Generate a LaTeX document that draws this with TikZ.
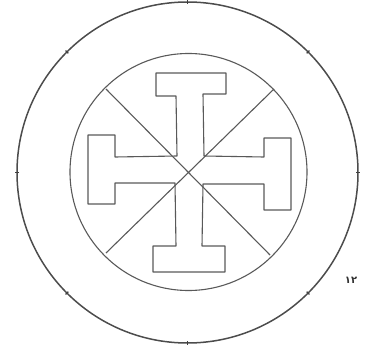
\documentclass[tikz,border=0pt]{standalone}
\usepackage{fontspec}
\usetikzlibrary{calc}
\newfontfamily\arabicfont[Script=Arabic]{DejaVu Sans}
\begin{document}
\begin{tikzpicture}[x=1pt,y=-1pt,
  ink/.style={draw=black!65,line width=1.1pt,line join=round},
  rim/.style={draw=black!70,line width=1.5pt},
  tick/.style={draw=black!75,line width=1.2pt}]
\useasboundingbox (0,0) rectangle (372,350);
\coordinate (oc) at (187.5,172.5);
\coordinate (ic) at (188.5,172);
\coordinate (c) at (189,171.5);
% outer circle
\draw[rim] (oc) circle[radius=170.5];
\foreach \a in {0,45,...,315}{
  \draw[tick] ($(oc)+(\a:168.5)$) -- ($(oc)+(\a:172.5)$);
}
% inner circle
\draw[ink] (ic) circle[radius=118.5];
% diagonals
\coordinate (d1) at (106,89);
\coordinate (d2) at (274,89);
\coordinate (d3) at (106,253);
\coordinate (d4) at (270,255);
\draw[ink] (d1) -- (d4);
\draw[ink] (d2) -- (d3);
% cross
\draw[ink] (177,156) -- (176,96) -- (156,96) -- (156,73) -- (226,73) -- (226,94)
  -- (203,94) -- (204,156) -- (264,157) -- (264,138) -- (291,138) -- (291,210)
  -- (264,210) -- (264,184) -- (203,184) -- (202,246) -- (225,246) -- (225,272)
  -- (153,272) -- (153,246) -- (176,246) -- (175,183) -- (115,183) -- (115,204)
  -- (88,204) -- (88,135) -- (115,135) -- (115,157) -- cycle;
% label
\node[text=black!80,inner sep=0pt] (lbl) at (351,280) {\arabicfont\bfseries\fontsize{10}{12}\selectfont ١٢};
\end{tikzpicture}
\end{document}
